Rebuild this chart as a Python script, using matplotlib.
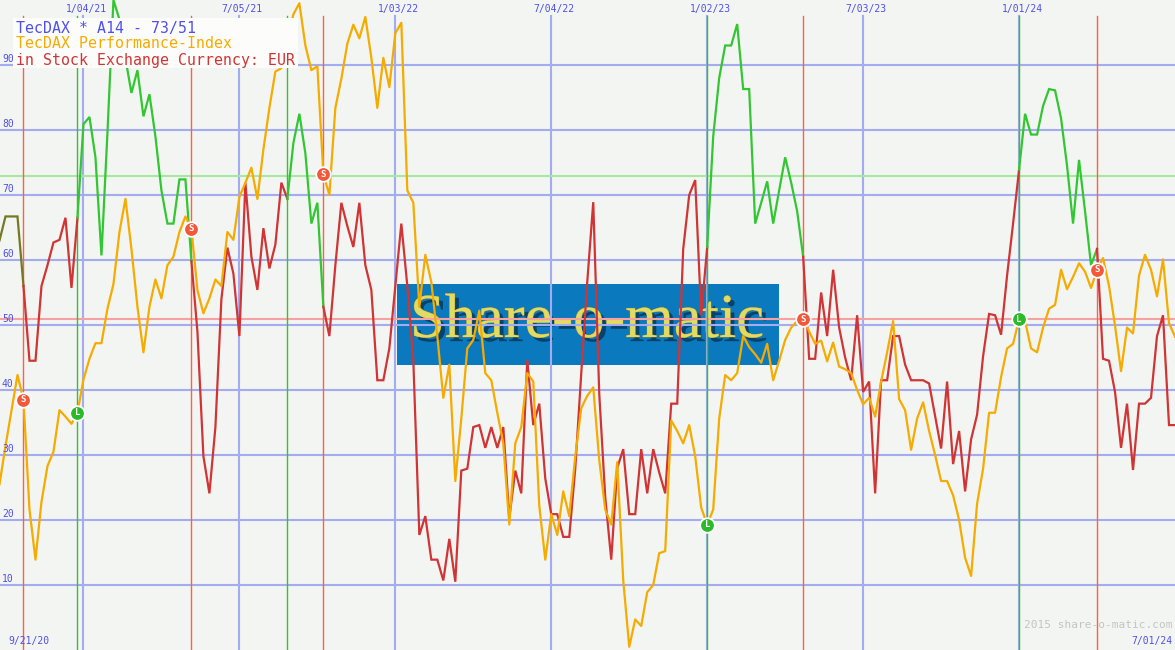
import numpy as np
import pandas as pd
import matplotlib
matplotlib.use("Agg")
import matplotlib.pyplot as plt
import matplotlib.patheffects as pe
from matplotlib.patches import Rectangle

# -----------------------------
# DATA (weekly, week 0 = 9/21/20)
# -----------------------------
start_date = pd.Timestamp("2020-09-21")
weeks = np.arange(1, 198)

# fast line (%K) - coloured by signal state
k_line = [
    63, 66.7, 66.7, 66.7, 56, 44.5, 44.5, 56, 59.2, 62.7,
    63.1, 66.5, 55.7, 66.5, 80.9, 82, 75.8, 60.7, 79.6, 100,
    97, 91, 85.7, 89.2, 82.1, 85.5, 79, 70.7, 65.6, 65.6,
    72.4, 72.4, 59.8, 49, 29.8, 24.1, 34.3, 54, 61.9, 57.9,
    48.3, 71.9, 60.5, 55.4, 64.9, 58.7, 62.4, 71.9, 69.4, 78,
    82.5, 76.4, 65.6, 68.8, 52.8, 48.3, 59.2, 68.8, 65.2, 62,
    68.8, 59.2, 55.4, 41.5, 41.5, 46.4, 56, 65.6, 56, 44.5,
    17.7, 20.6, 13.9, 13.9, 10.7, 17.1, 10.5, 27.6, 27.9, 34.3,
    34.6, 31.1, 34.3, 31.1, 34.3, 20.3, 27.6, 24.1, 44.6, 34.6,
    37.9, 26.4, 20.9, 20.9, 17.4, 17.4, 27.9, 42.6, 56.6, 68.9,
    39.4, 23.5, 13.9, 28, 30.9, 20.9, 20.9, 30.9, 24.1, 30.9,
    27.3, 24.1, 37.9, 37.9, 61.7, 70, 72.3, 51.5, 62, 79,
    88, 93, 93, 96.3, 86.3, 86.3, 65.6, 68.8, 72.1, 65.6,
    70.7, 75.8, 71.9, 67.5, 60.5, 44.8, 44.8, 55, 48.3, 58.5,
    49.6, 45, 41.5, 51.5, 39.7, 41.3, 24.1, 41.5, 41.5, 48.3,
    48.3, 43.9, 41.5, 41.5, 41.5, 41, 36, 31, 41.3, 28.6,
    33.7, 24.4, 32.4, 36.2, 45.2, 51.7, 51.5, 48.5, 57.6, 65.6,
    73.9, 82.5, 79.3, 79.3, 83.7, 86.3, 86.1, 81.8, 74.5, 65.6,
    75.4, 67.5, 59.2, 61.7, 44.8, 44.5, 39.7, 31.1, 37.9, 27.7,
    37.9, 37.9, 38.8, 48.3, 51.5, 34.6, 34.6,
]

# slow line (%D)
d_line = [
    25.5, 31.4, 36.9, 42.3, 38.5, 21.6, 13.9, 22.8, 28.3, 30.5,
    36.9, 35.9, 34.8, 36.5, 41.6, 44.8, 47.2, 47.2, 52.5, 56.3,
    64.3, 69.4, 61.7, 52.8, 45.8, 52.8, 57, 54.1, 59.2, 60.5,
    64.3, 66.7, 64.8, 55.4, 51.8, 54.1, 57, 56, 64.3, 63.1,
    69.7, 71.9, 74.2, 69.4, 77, 83.4, 89, 89.5, 94, 97.8,
    99.5, 93, 89.2, 89.8, 73.2, 70, 83.4, 87.9, 93.3, 96.2,
    94.1, 97.4, 91.1, 83.4, 91.1, 86.6, 94.9, 96.5, 70.7, 68.8,
    52.8, 60.8, 56.6, 48.3, 38.8, 43.9, 26, 35.6, 46.4, 47.7,
    52.2, 42.6, 41.5, 36.5, 31.8, 19.3, 31.8, 34.3, 42.6, 41.3,
    22.2, 13.9, 20.9, 17.7, 24.4, 20.6, 29.8, 37.2, 39.1, 40.4,
    29.2, 21.6, 19.3, 28.9, 10.7, 0.5, 4.7, 3.7, 8.9, 10,
    14.9, 15.2, 35.3, 33.7, 31.8, 34.6, 29.8, 21.9, 19.3, 21.6,
    35.6, 42.3, 41.5, 42.6, 48.3, 46.6, 45.5, 44.2, 47.1, 41.5,
    44.5, 47.7, 49.6, 50.6, 50.9, 49, 47.1, 47.6, 44.4, 47.3,
    43.6, 43.2, 42.6, 40, 37.8, 38.8, 35.9, 41.3, 45.8, 50.6,
    38.6, 36.9, 30.8, 35.6, 38.1, 33.7, 30, 26, 26, 23.8,
    20, 14.2, 11.4, 22.5, 27.9, 36.5, 36.5, 42, 46.4, 47.1,
    50.9, 50.6, 46.4, 45.8, 49.6, 52.5, 53.1, 58.5, 55.5, 57.4,
    59.5, 58.2, 55.7, 58.5, 60.3, 56, 49.9, 42.9, 49.6, 48.7,
    57.6, 60.8, 58.5, 54.4, 60.1, 50.3, 48.2,
]

sell_weeks = [5, 33, 55, 135, 184]
long_weeks = [14, 49, 119, 171]
upper_level = 73
lower_level = 51
y_ticks = [10, 20, 30, 40, 50, 60, 70, 80, 90]
date_ticks = [15, 41, 67, 93, 119, 145, 171]

title_lines = ["TecDAX * A14 - 73/51",
               "TecDAX Performance-Index",
               "in Stock Exchange Currency: EUR"]

# -----------------------------
# COLOURS
# -----------------------------
BG = "#f3f5f2"
GRID = "#a3acf0"
TXT_BLUE = "#4f4fea"
RED = "#d03434"
GREEN = "#33c633"
OLIVE = "#737a22"
ORANGE = "#f5ab00"
SIG_RED = "#ff6040"
SIG_GREEN = "#2fc52f"

W, H = 1175, 650


def px(x, y):
    # pixel position -> axes fraction
    return x / W, 1 - y / H


def week_label(w):
    d = start_date + pd.Timedelta(weeks=int(w))
    return f"{d.month}/{d.day:02d}/{d.year % 100:02d}"


fig = plt.figure(figsize=(11.75, 6.5), dpi=100, facecolor=BG)
ax = fig.add_axes([0, 0, 1, 1])
ax.set_facecolor(BG)
ax.set_xlim(6.5 / 6, 197)
ax.set_ylim(0, 100)
for s in ax.spines.values():
    s.set_visible(False)
ax.set_xticks([])
ax.set_yticks([])

mono = "DejaVu Sans Mono"

# -----------------------------
# LOGO (behind grid)
# -----------------------------
x0, y0 = px(397, 365)
x1, y1 = px(779, 284)
ax.add_patch(Rectangle((x0, y0), x1 - x0, y1 - y0, transform=ax.transAxes,
                       facecolor="#0a79bd", edgecolor="none", zorder=1))
lx, ly = px(587, 322)
ax.text(lx, ly, "Share-o-matic", transform=ax.transAxes, ha="center", va="center",
        fontsize=45, family="Liberation Serif", color="#e2da62", zorder=1.5,
        path_effects=[pe.withSimplePatchShadow(offset=(3, -3), shadow_rgbFace="#05304d", alpha=0.75),
                      pe.Stroke(linewidth=0.6, foreground="#8f8a3a"), pe.Normal()])

# -----------------------------
# GRID
# -----------------------------
top_frac = 1 - 16 / H
for v in y_ticks:
    ax.axhline(v, color=GRID, lw=1.5, zorder=2)
    ax.text(2 / W, v + 0.45, str(v), transform=ax.get_yaxis_transform(),
            fontsize=7, family=mono, color=TXT_BLUE, va="baseline", ha="left", zorder=6)
for w in date_ticks:
    ax.axvline(w, 0, top_frac, color=GRID, lw=1.5, zorder=2)
    ax.text(w + 0.5, 1 - 9 / H, week_label(w), transform=ax.get_xaxis_transform(),
            fontsize=7, family=mono, color=TXT_BLUE, ha="center", va="center", zorder=6)

ax.axhline(upper_level, color="#a6e8a0", lw=1.5, zorder=2.1)
ax.axhline(lower_level, color="#f6a2a2", lw=1.5, zorder=2.1)

for w in sell_weeks:
    ax.axvline(w, 0, top_frac, color=SIG_RED, lw=1.0, zorder=2.5)
for w in long_weeks:
    ax.axvline(w, 0, top_frac, color=SIG_GREEN, lw=1.0, zorder=2.5)

# -----------------------------
# LINES
# -----------------------------
k = np.array(k_line)
bounds = [1] + sorted(sell_weeks + long_weeks) + [197]
for a, b in zip(bounds[:-1], bounds[1:]):
    seg = (weeks >= a) & (weeks <= b)
    if a == 1:
        c = OLIVE
    elif a in long_weeks:
        c = GREEN
    else:
        c = RED
    ax.plot(weeks[seg], k[seg], color=c, lw=1.6, zorder=3, solid_joinstyle="miter")

ax.plot(weeks, d_line, color=ORANGE, lw=1.6, zorder=3.2)

# -----------------------------
# SIGNAL MARKERS
# -----------------------------
d = np.array(d_line)
for w in sell_weeks:
    v = d[w - 1]
    ax.plot(w, v, "o", ms=10.5, mfc="#f4583a", mec="white", mew=1.3, zorder=4)
    ax.text(w, v, "S", fontsize=6.5, color="white", ha="center", va="center",
            fontweight="bold", family=mono, zorder=4.1)
for w in long_weeks:
    v = d[w - 1]
    ax.plot(w, v, "o", ms=10.5, mfc="#2aba2a", mec="white", mew=1.3, zorder=4)
    ax.text(w, v, "L", fontsize=6.5, color="white", ha="center", va="center",
            fontweight="bold", family=mono, zorder=4.1)

# -----------------------------
# LEGEND BOX
# -----------------------------
bx0, by0 = px(12.5, 68)
bx1, by1 = px(298, 18)
ax.add_patch(Rectangle((bx0, by0), bx1 - bx0, by1 - by0, transform=ax.transAxes,
                       facecolor="#fcfdfb", edgecolor="none", zorder=5))
for txt, col, yy in zip(title_lines, [TXT_BLUE, ORANGE, RED], [28, 44, 60]):
    tx, ty = px(16, yy)
    ax.text(tx, ty, txt, transform=ax.transAxes, fontsize=10.7, family=mono,
            color=col, ha="left", va="center", zorder=6)

# -----------------------------
# FOOTER TEXT
# -----------------------------
fx, fy = px(8, 641)
ax.text(fx, fy, week_label(0), transform=ax.transAxes, fontsize=7, family=mono,
        color=TXT_BLUE, ha="left", va="center", zorder=6)
fx, fy = px(1172, 641)
ax.text(fx, fy, week_label(197), transform=ax.transAxes, fontsize=7, family=mono,
        color=TXT_BLUE, ha="right", va="center", zorder=6)
fx, fy = px(1172, 625)
ax.text(fx, fy, "2015 share-o-matic.com", transform=ax.transAxes, fontsize=8,
        family=mono, color="#c4c4c4", ha="right", va="center", zorder=6)

fig.savefig("out.png", dpi=100, facecolor=BG)
